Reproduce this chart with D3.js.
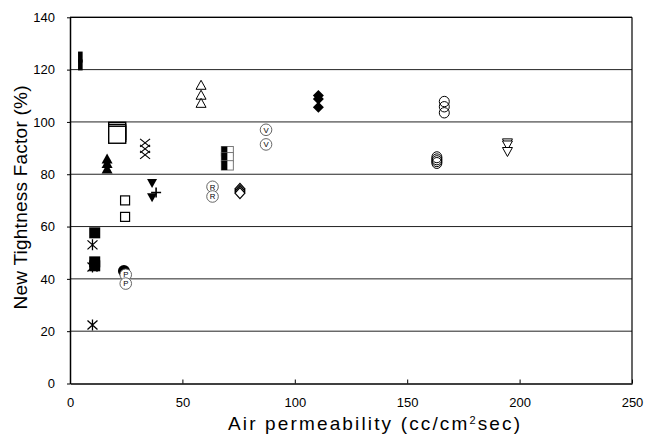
<!DOCTYPE html>
<html><head><meta charset="utf-8">
<script src="https://cdn.jsdelivr.net/npm/d3@7/dist/d3.min.js"></script>
<style>
html,body{margin:0;padding:0;background:#fff;}
svg text{font-family:"Liberation Sans",Arial,sans-serif;fill:#000;}
</style></head>
<body>
<svg id="chart" width="647" height="436"></svg>
<script>
const xTicks = [0, 50, 100, 150, 200, 250];
const yTicks = [0, 20, 40, 60, 80, 100, 120, 140];

// Each series: one x value (air permeability) and its measured tightness factors
const barX = 4.6,            barY = [121.8, 124.8];
const filledTriX = 16.5,     filledTriY = [86, 84.3, 82.2];
const bigSquareX = 21,       bigSquareY = [96.6, 95.8, 95.1];
const crossX = 33.4,         crossY = [92, 89.7, 87.4];
const filledInvTriX = 36.5,  filledInvTriY = [76.5, 71];
const plusX = 38.3,          plusY = [73];
const smallSquareX = 24.5,   smallSquareY = [70, 63.7];
const filledSquareX = 11,    filledSquareY = [57.6, 46.5, 45];
const asteriskX = 10,        asteriskY = [53, 44.5, 22.4];
const filledCircleX = 24,    filledCircleY = [43];
const circledPX = 24.8,      circledPY = [41.6, 38.2];
const openTriX = 58.3,       openTriY = [114.2, 110.4, 107.3];
const halfRectX = 70,        halfRectY = [88.8, 86.5, 83.4];
const circledRX = 63.4,      circledRY = [75.2, 71.5];
const openDiamondX = 75.6,   openDiamondY = [74.4, 73.6, 72.8];
const circledVX = 87.2,      circledVY = [97, 91.4];
const filledDiamondX = 110.5,filledDiamondY = [110.1, 108.8, 105.6];
const openCircleX = 166.5,   openCircleY = [107.8, 105.8, 103.5];
const multiCircleX = 163.2,  multiCircleY = [86.5, 85.7, 85, 84.3];
const openInvTriX = 194.6,   openInvTriY = [91.8, 91, 88.5];

const series = [
  {x: barX, y: barY, m: "bar"},
  {x: filledTriX, y: filledTriY, m: "filledTri"},
  {x: bigSquareX, y: bigSquareY, m: "bigSquare"},
  {x: crossX, y: crossY, m: "cross"},
  {x: filledInvTriX, y: filledInvTriY, m: "filledInvTri"},
  {x: plusX, y: plusY, m: "plus"},
  {x: smallSquareX, y: smallSquareY, m: "smallSquare"},
  {x: filledSquareX, y: filledSquareY, m: "filledSquare"},
  {x: asteriskX, y: asteriskY, m: "asterisk"},
  {x: filledCircleX, y: filledCircleY, m: "filledCircle"},
  {x: circledPX, y: circledPY, m: "circled", t: "P"},
  {x: openTriX, y: openTriY, m: "openTri"},
  {x: halfRectX, y: halfRectY, m: "halfRect"},
  {x: circledRX, y: circledRY, m: "circled", t: "R"},
  {x: openDiamondX, y: openDiamondY, m: "openDiamond"},
  {x: circledVX, y: circledVY, m: "circled", t: "V"},
  {x: filledDiamondX, y: filledDiamondY, m: "filledDiamond"},
  {x: openCircleX, y: openCircleY, m: "openCircle"},
  {x: multiCircleX, y: multiCircleY, m: "multiCircle"},
  {x: openInvTriX, y: openInvTriY, m: "openInvTri"}
];

const L = 70, R = 632, T = 17.3, B = 383.5;
const svg = d3.select("#chart");
const x = d3.scaleLinear().domain([0, 250]).range([L, R]);
const y = d3.scaleLinear().domain([0, 140]).range([B, T]);

// gridlines
svg.append("g").selectAll("line").data(yTicks.filter(v => v > 0)).join("line")
  .attr("x1", L).attr("x2", R).attr("y1", d => y(d)).attr("y2", d => y(d))
  .attr("stroke", "#222").attr("stroke-width", 1);

// axes
const xAxis = d3.axisBottom(x).tickValues(xTicks).tickSizeInner(-4).tickSizeOuter(0).tickPadding(14);
const gx = svg.append("g").attr("transform", `translate(0,${B})`).call(xAxis);
gx.select(".domain").attr("stroke", "#000").attr("stroke-width", 1.5);
gx.selectAll(".tick line").attr("stroke", "#000");
gx.selectAll("text").attr("font-size", 13).attr("font-family", "Liberation Sans, Arial, sans-serif");

const yAxis = d3.axisLeft(y).tickValues(yTicks).tickSizeInner(3).tickSizeOuter(0).tickPadding(12);
const gy = svg.append("g").attr("transform", `translate(${L},0)`).call(yAxis);
gy.select(".domain").attr("stroke", "#000").attr("stroke-width", 1.5);
gy.selectAll(".tick line").attr("stroke", "#000");
gy.selectAll("text").attr("font-size", 13).attr("font-family", "Liberation Sans, Arial, sans-serif");

// right and top border
svg.append("line").attr("x1", R).attr("x2", R).attr("y1", T).attr("y2", B)
  .attr("stroke", "#000").attr("stroke-width", 1.2);
svg.append("line").attr("x1", L).attr("x2", R).attr("y1", T).attr("y2", T)
  .attr("stroke", "#000").attr("stroke-width", 1.2);

// markers
const g = svg.append("g");
function tri(cx, cy, w, h, down) {
  const s = down ? -1 : 1;
  return `M${cx},${cy - s*h/2} L${cx + w/2},${cy + s*h/2} L${cx - w/2},${cy + s*h/2} Z`;
}
function drawMarker(m, cx, cy, t) {
  switch (m) {
    case "bar":
      g.append("rect").attr("x", cx - 2.3).attr("y", cy - 5.5).attr("width", 4.6).attr("height", 11).attr("fill", "#000"); break;
    case "filledTri":
      g.append("path").attr("d", tri(cx, cy, 11, 10, false)).attr("fill", "#000"); break;
    case "openTri":
      g.append("path").attr("d", tri(cx, cy, 10, 9, false)).attr("fill", "#fff").attr("stroke", "#000").attr("stroke-width", 1); break;
    case "filledInvTri":
      g.append("path").attr("d", tri(cx, cy, 10, 9, true)).attr("fill", "#000"); break;
    case "openInvTri":
      g.append("path").attr("d", tri(cx, cy, 10, 9, true)).attr("fill", "#fff").attr("stroke", "#000").attr("stroke-width", 1); break;
    case "bigSquare":
      g.append("rect").attr("x", cx - 8.5).attr("y", cy - 8.5).attr("width", 17).attr("height", 17)
        .attr("fill", "#fff").attr("stroke", "#000").attr("stroke-width", 1.4); break;
    case "smallSquare":
      g.append("rect").attr("x", cx - 4.5).attr("y", cy - 4.5).attr("width", 9).attr("height", 9)
        .attr("fill", "#fff").attr("stroke", "#000").attr("stroke-width", 1.2); break;
    case "filledSquare":
      g.append("rect").attr("x", cx - 5.5).attr("y", cy - 5.5).attr("width", 11).attr("height", 11).attr("fill", "#000"); break;
    case "cross":
      g.append("path").attr("d", `M${cx-5},${cy-4} L${cx+5},${cy+4} M${cx+5},${cy-4} L${cx-5},${cy+4}`)
        .attr("stroke", "#000").attr("stroke-width", 1.2).attr("fill", "none"); break;
    case "asterisk":
      g.append("path").attr("d", `M${cx-5},${cy-4.5} L${cx+5},${cy+4.5} M${cx+5},${cy-4.5} L${cx-5},${cy+4.5} M${cx},${cy-5.5} L${cx},${cy+5.5}`)
        .attr("stroke", "#000").attr("stroke-width", 1.3).attr("fill", "none"); break;
    case "plus":
      g.append("path").attr("d", `M${cx-5},${cy} L${cx+5},${cy} M${cx},${cy-5} L${cx},${cy+5}`)
        .attr("stroke", "#000").attr("stroke-width", 1.6).attr("fill", "none"); break;
    case "filledCircle":
      g.append("circle").attr("cx", cx).attr("cy", cy).attr("r", 6).attr("fill", "#000"); break;
    case "openCircle":
      g.append("ellipse").attr("cx", cx).attr("cy", cy).attr("rx", 5).attr("ry", 5.2).attr("fill", "none").attr("stroke", "#000").attr("stroke-width", 1); break;
    case "multiCircle":
      g.append("ellipse").attr("cx", cx).attr("cy", cy).attr("rx", 5).attr("ry", 5.5).attr("fill", "none").attr("stroke", "#000").attr("stroke-width", 1); break;
    case "circled":
      g.append("circle").attr("cx", cx).attr("cy", cy).attr("r", 5.8).attr("fill", "#fff").attr("stroke", "#555").attr("stroke-width", 0.9);
      g.append("text").attr("x", cx).attr("y", cy + 2.8).attr("text-anchor", "middle").attr("font-size", 7.8).text(t); break;
    case "halfRect":
      g.append("rect").attr("x", cx - 6).attr("y", cy - 4.7).attr("width", 12).attr("height", 9.4).attr("fill", "#fff").attr("stroke", "#777").attr("stroke-width", 1);
      g.append("rect").attr("x", cx - 6).attr("y", cy - 4.7).attr("width", 6).attr("height", 9.4).attr("fill", "#000"); break;
    case "openDiamond":
      g.append("path").attr("d", `M${cx},${cy-5.5} L${cx+5},${cy} L${cx},${cy+5.5} L${cx-5},${cy} Z`)
        .attr("fill", "#fff").attr("stroke", "#000").attr("stroke-width", 1.3); break;
    case "filledDiamond":
      g.append("path").attr("d", `M${cx},${cy-5.5} L${cx+5.5},${cy} L${cx},${cy+5.5} L${cx-5.5},${cy} Z`).attr("fill", "#000"); break;
  }
}
series.forEach(s => s.y.forEach(v => drawMarker(s.m, x(s.x), y(v), s.t)));

// axis titles
svg.append("text").attr("x", 228).attr("y", 430).attr("text-anchor", "start").attr("font-size", 19)
  .attr("textLength", 292).attr("lengthAdjust", "spacing")
  .html('Air permeability (cc/cm<tspan baseline-shift="super" font-size="11">2</tspan>sec)');
svg.append("text").attr("transform", "translate(27,197.5) rotate(-90)").attr("text-anchor", "middle").attr("font-size", 19)
  .attr("textLength", 224).attr("lengthAdjust", "spacing")
  .text("New Tightness Factor (%)");
</script>
</body></html>
